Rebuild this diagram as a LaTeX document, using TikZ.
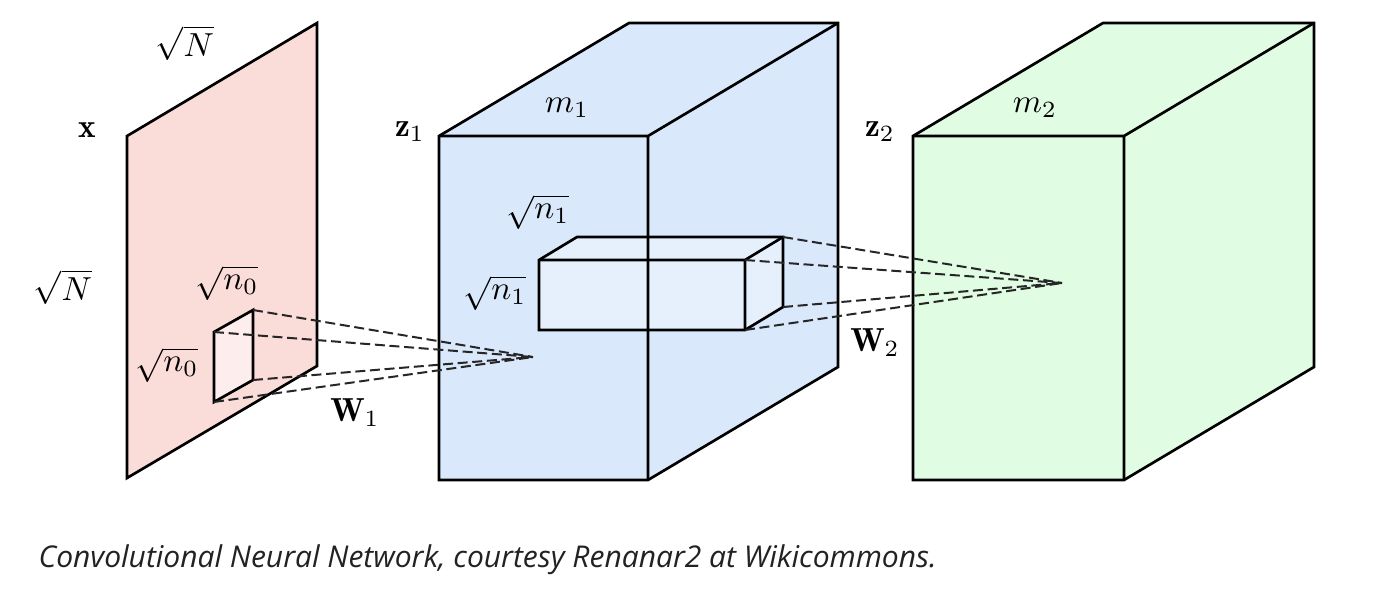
\documentclass[tikz,border=0pt]{standalone}
\usepackage{fontspec}
\newfontfamily\capfont{Open Sans}
\definecolor{redfill}{HTML}{FADCD8}
\definecolor{patchfill}{HTML}{FDEDEC}
\definecolor{bluefill}{HTML}{DAE8FC}
\definecolor{innerfill}{HTML}{EBF3FE}
\definecolor{greenfill}{HTML}{E0FCE3}
\definecolor{captext}{HTML}{222222}
\begin{document}
\begin{tikzpicture}[x=0.3pt,y=-0.3pt,
  edge/.style={draw=black,line width=0.8pt,line join=miter},
  proj/.style={draw=black!85,line width=0.6pt,dash pattern=on 3pt off 1.4pt},
  lbl/.style={inner sep=0pt,font=\fontsize{10}{12}\selectfont},
  capstyle/.style={inner sep=0pt,anchor=base west,text=captext,font=\capfont\itshape\fontsize{9}{11}\selectfont}]
\useasboundingbox (0,0) rectangle (1400,594);

% ---------- input plane x ----------
\coordinate (xa) at (127,478);
\coordinate (xb) at (127,136);
\coordinate (xc) at (317,23);
\coordinate (xd) at (317,366);
\filldraw[edge,fill=redfill] (xa) -- (xb) -- (xc) -- (xd) -- cycle;

% receptive patch
\coordinate (pa) at (214,402);
\coordinate (pb) at (214,332);
\coordinate (pc) at (253,310);
\coordinate (pd) at (253,380);
\filldraw[edge,fill=patchfill] (pa) -- (pb) -- (pc) -- (pd) -- cycle;

% ---------- box z1 ----------
\coordinate (b1) at (439,480);
\coordinate (b2) at (439,136);
\coordinate (b3) at (648,136);
\coordinate (b4) at (648,480);
\coordinate (b5) at (629,23);
\coordinate (b6) at (838,23);
\coordinate (b7) at (838,367);
\fill[bluefill] (b1) -- (b2) -- (b5) -- (b6) -- (b7) -- (b4) -- cycle;

% inner box (receptive volume)
\coordinate (i1) at (539,330);
\coordinate (i2) at (539,260);
\coordinate (i3) at (745,260);
\coordinate (i4) at (745,330);
\coordinate (i5) at (577,237);
\coordinate (i6) at (783,237);
\coordinate (i7) at (783,307);
\filldraw[edge,fill=innerfill,fill opacity=0.75] (i1) -- (i2) -- (i5) -- (i6) -- (i7) -- (i4) -- cycle;
\draw[edge] (i2) -- (i3) -- (i4) (i3) -- (i6);

\draw[edge] (b1) -- (b2) -- (b5) -- (b6) -- (b7) -- (b4) -- cycle;
\draw[edge] (b2) -- (b3) -- (b4) (b3) -- (b6);

% W1 projections
\coordinate (t1) at (533,357);
\draw[proj] (pc) -- (t1);
\draw[proj] (pb) -- (t1);
\draw[proj] (pd) -- (t1);
\draw[proj] (pa) -- (t1);

% ---------- box z2 ----------
\coordinate (g1) at (913,480);
\coordinate (g2) at (913,136);
\coordinate (g3) at (1124,136);
\coordinate (g4) at (1124,480);
\coordinate (g5) at (1103,23);
\coordinate (g6) at (1314,23);
\coordinate (g7) at (1314,367);
\filldraw[edge,fill=greenfill] (g1) -- (g2) -- (g5) -- (g6) -- (g7) -- (g4) -- cycle;
\draw[edge] (g2) -- (g3) -- (g4) (g3) -- (g6);

% W2 projections
\coordinate (t2) at (1062,283);
\draw[proj] (i6) -- (t2);
\draw[proj] (i3) -- (t2);
\draw[proj] (i7) -- (t2);
\draw[proj] (i4) -- (t2);

% ---------- labels ----------
\node[lbl] (lNtop) at (185,43) {$\sqrt{N}$};
\node[lbl] (lx) at (87,130) {$\mathbf{x}$};
\node[lbl] (lNleft) at (63,287) {$\sqrt{N}$};
\node[lbl] (ln0a) at (227,283) {$\sqrt{n_0}$};
\node[lbl] (ln0b) at (167,365) {$\sqrt{n_0}$};
\node[lbl] (lW1) at (355,413) {$\mathbf{W}_1$};
\node[lbl] (lz1) at (410,132) {$\mathbf{z}_1$};
\node[lbl] (lm1) at (567,108) {$m_1$};
\node[lbl] (ln1a) at (538,212) {$\sqrt{n_1}$};
\node[lbl] (ln1b) at (495,293) {$\sqrt{n_1}$};
\node[lbl] (lz2) at (880,132) {$\mathbf{z}_2$};
\node[lbl] (lm2) at (1035,108) {$m_2$};
\node[lbl] (lW2) at (875,343) {$\mathbf{W}_2$};

\node[capstyle] (cap) at (38,567) {Convolutional Neural Network, courtesy Renanar2 at Wikicommons.};
\end{tikzpicture}
\end{document}
